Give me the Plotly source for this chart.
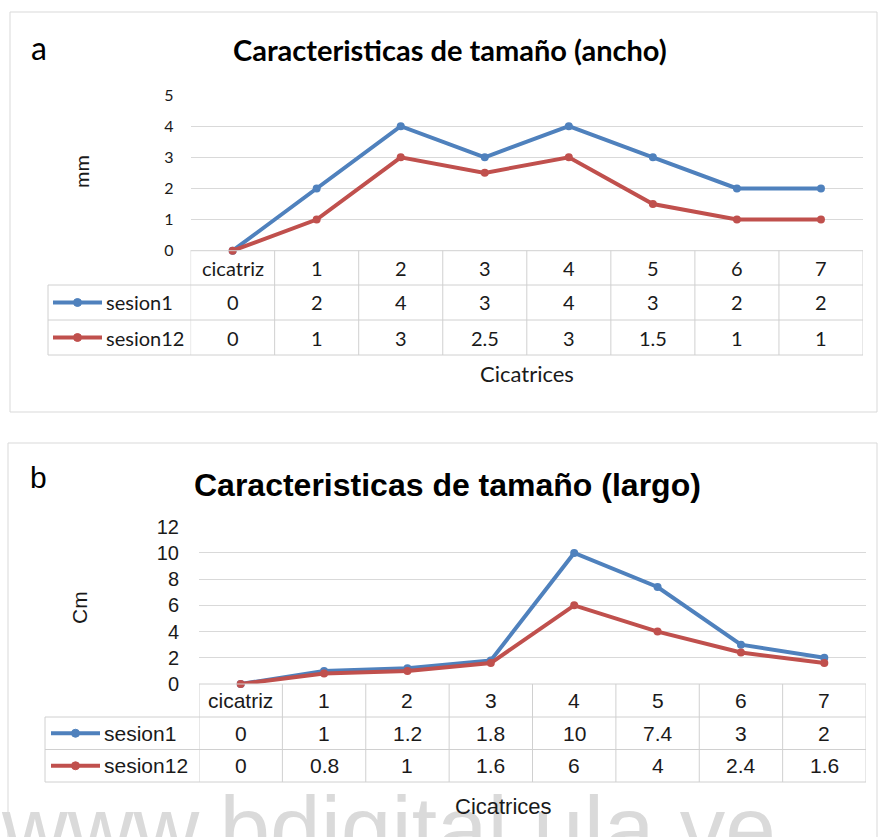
import plotly.graph_objects as go

# ---------------- data ----------------
categories = ["cicatriz", "1", "2", "3", "4", "5", "6", "7"]
series_names = ["sesion1", "sesion12"]
ancho_sesion1 = [0, 2, 4, 3, 4, 3, 2, 2]
ancho_sesion12 = [0, 1, 3, 2.5, 3, 1.5, 1, 1]
largo_sesion1 = [0, 1, 1.2, 1.8, 10, 7.4, 3, 2]
largo_sesion12 = [0, 0.8, 1, 1.6, 6, 4, 2.4, 1.6]
ancho_ticks = [0, 1, 2, 3, 4, 5]
largo_ticks = [0, 2, 4, 6, 8, 10, 12]

# ---------------- styles / layout helpers ----------------
W, H = 879, 837
BLUE = "#4f81bd"
RED = "#c0504d"
GRID = "#d9d9d9"
TXT = "#1a1a1a"
FA = "Lato, 'Open Sans', sans-serif"
FB = "'Liberation Sans', Arial, sans-serif"
WATERMARK = "www.bdigital.ula.ve"


def px(x):
    return x / W


def py(y):
    return 1 - y / H


panels = [
    dict(key="", letter="a", title="Caracteristicas de tamaño (ancho)", ytitle="mm",
         s1=ancho_sesion1, s12=ancho_sesion12, ticks=ancho_ticks,
         left=190.6, right=863, top=95, bottom=250.7, rows=[285, 320, 355], tleft=48,
         key0=53, key1=102, keytext=104, title_xy=(450, 50), letter_xy=(39, 47),
         ytitle_xy=(81, 172), xtitle_xy=(527, 373), box=(10, 12, 877, 412),
         font=FA, fs_title=29, fs_letter=32, fs_tick=16, fs_table=20, fs_ytitle=20,
         fs_xtitle=22, standoff=16, lw=4),
    dict(key="2", letter="b", title="Caracteristicas de tamaño (largo)", ytitle="Cm",
         s1=largo_sesion1, s12=largo_sesion12, ticks=largo_ticks,
         left=199, right=866, top=526.7, bottom=684, rows=[717, 749.5, 782], tleft=45,
         key0=51, key1=100, keytext=102, title_xy=(448, 485), letter_xy=(38, 477),
         ytitle_xy=(79, 608), xtitle_xy=(503, 806), box=(8, 443, 877, 845),
         font=FB, fs_title=32, fs_letter=30, fs_tick=20, fs_table=21, fs_ytitle=21,
         fs_xtitle=22, standoff=19, lw=4),
]

fig = go.Figure()
shapes = []
annotations = []

# watermark first so that the rest sits on top
annotations.append(dict(
    text=WATERMARK, x=px(-1), y=py(776), xref="paper", yref="paper",
    xanchor="left", yanchor="top", showarrow=False,
    font=dict(family="'Liberation Sans', Arial, sans-serif", size=91, color="#dadada")))

for p in panels:
    xa = "x" + p["key"]
    ya = "y" + p["key"]
    for name, vals, col in [(series_names[0], p["s1"], BLUE), (series_names[1], p["s12"], RED)]:
        fig.add_trace(go.Scatter(
            x=categories, y=vals, name=name, mode="lines+markers",
            line=dict(color=col, width=p["lw"]),
            marker=dict(color=col, size=8, symbol="circle"),
            xaxis=xa, yaxis=ya, cliponaxis=False, showlegend=False))

    axis_x = dict(domain=[px(p["left"]), px(p["right"])], type="category",
                  range=[-0.5, len(categories) - 0.5], showticklabels=False,
                  showgrid=False, zeroline=False, showline=False, anchor=ya, automargin=False)
    axis_y = dict(domain=[py(p["bottom"]), py(p["top"])],
                  range=[p["ticks"][0], p["ticks"][-1]], tickvals=p["ticks"],
                  showgrid=True, gridcolor=GRID, gridwidth=1, zeroline=False,
                  showline=False, ticks="", ticklabelstandoff=p["standoff"], automargin=False,
                  tickfont=dict(family=p["font"], size=p["fs_tick"], color=TXT), anchor=xa)
    fig.update_layout(**{"xaxis" + p["key"]: axis_x, "yaxis" + p["key"]: axis_y})

    # panel border
    x0, y0, x1, y1 = p["box"]
    shapes.append(dict(type="rect", xref="paper", yref="paper",
                       x0=px(x0), x1=px(x1), y0=py(y0), y1=py(y1),
                       line=dict(color=GRID, width=1), layer="below"))

    # table lines
    tcol = "#d0d0d0"
    r = p["rows"]
    shapes.append(dict(type="line", xref="paper", yref="paper",
                       x0=px(p["left"]), x1=px(p["right"]), y0=py(p["bottom"]), y1=py(p["bottom"]),
                       line=dict(color=tcol, width=1)))
    for ry in r:
        shapes.append(dict(type="line", xref="paper", yref="paper",
                           x0=px(p["tleft"]), x1=px(p["right"]), y0=py(ry), y1=py(ry),
                           line=dict(color=tcol, width=1)))
    shapes.append(dict(type="line", xref="paper", yref="paper",
                       x0=px(p["tleft"]), x1=px(p["tleft"]), y0=py(r[0]), y1=py(r[-1]),
                       line=dict(color=tcol, width=1)))
    for i in range(len(categories) + 1):
        shapes.append(dict(type="line", xref=xa, yref="paper",
                           x0=i - 0.5, x1=i - 0.5, y0=py(p["bottom"]), y1=py(r[-1]),
                           line=dict(color=tcol, width=1)))

    # table text
    row_centers = [(p["bottom"] + r[0]) / 2, (r[0] + r[1]) / 2, (r[1] + r[2]) / 2]
    tf = dict(family=p["font"], size=p["fs_table"], color=TXT)
    for c in categories:
        annotations.append(dict(text=c, x=c, y=py(row_centers[0]), xref=xa, yref="paper",
                                showarrow=False, font=tf, xanchor="center", yanchor="middle"))
    for ri, (name, vals, col) in enumerate([(series_names[0], p["s1"], BLUE),
                                             (series_names[1], p["s12"], RED)]):
        cy = row_centers[ri + 1]
        for c, v in zip(categories, vals):
            annotations.append(dict(text=f"{v:g}", x=c, y=py(cy), xref=xa, yref="paper",
                                    showarrow=False, font=tf, xanchor="center", yanchor="middle"))
        annotations.append(dict(text=name, x=px(p["keytext"]), y=py(cy), xref="paper", yref="paper",
                                showarrow=False, font=tf, xanchor="left", yanchor="middle"))
        # legend key
        shapes.append(dict(type="line", xref="paper", yref="paper",
                           x0=px(p["key0"]), x1=px(p["key1"]), y0=py(cy), y1=py(cy),
                           line=dict(color=col, width=4)))
        mx = (p["key0"] + p["key1"]) / 2
        shapes.append(dict(type="circle", xref="paper", yref="paper",
                           x0=px(mx - 4), x1=px(mx + 4), y0=py(cy + 4), y1=py(cy - 4),
                           fillcolor=col, line=dict(color=col, width=1)))

    # titles
    annotations.append(dict(text="<b>" + p["title"] + "</b>", x=px(p["title_xy"][0]), y=py(p["title_xy"][1]),
                            xref="paper", yref="paper", showarrow=False, xanchor="center", yanchor="middle",
                            font=dict(family=p["font"], size=p["fs_title"], color="#000000")))
    annotations.append(dict(text=p["letter"], x=px(p["letter_xy"][0]), y=py(p["letter_xy"][1]),
                            xref="paper", yref="paper", showarrow=False, xanchor="center", yanchor="middle",
                            font=dict(family=p["font"], size=p["fs_letter"], color="#000000")))
    annotations.append(dict(text=p["ytitle"], x=px(p["ytitle_xy"][0]), y=py(p["ytitle_xy"][1]),
                            xref="paper", yref="paper", showarrow=False, xanchor="center", yanchor="middle",
                            textangle=-90, font=dict(family=p["font"], size=p["fs_ytitle"], color=TXT)))
    annotations.append(dict(text="Cicatrices", x=px(p["xtitle_xy"][0]), y=py(p["xtitle_xy"][1]),
                            xref="paper", yref="paper", showarrow=False, xanchor="center", yanchor="middle",
                            font=dict(family=p["font"], size=p["fs_xtitle"], color=TXT)))

fig.update_layout(
    width=W, height=H, margin=dict(l=0, r=0, t=0, b=0, pad=0, autoexpand=False),
    paper_bgcolor="white", plot_bgcolor="white",
    showlegend=False, shapes=shapes, annotations=annotations)

post = (
    "var d=document.getElementById('{plot_id}');"
    "d.style.position='fixed';d.style.top='0px';d.style.left='0px';"
    "var s=document.documentElement.style;s.margin='0';s.padding='0';s.overflow='hidden';s.height='837px';"
    "var b=document.body.style;b.margin='0';b.padding='0';b.overflow='hidden';b.height='837px';"
)
fig.write_html("out.html", config={"displayModeBar": False}, post_script=post)
